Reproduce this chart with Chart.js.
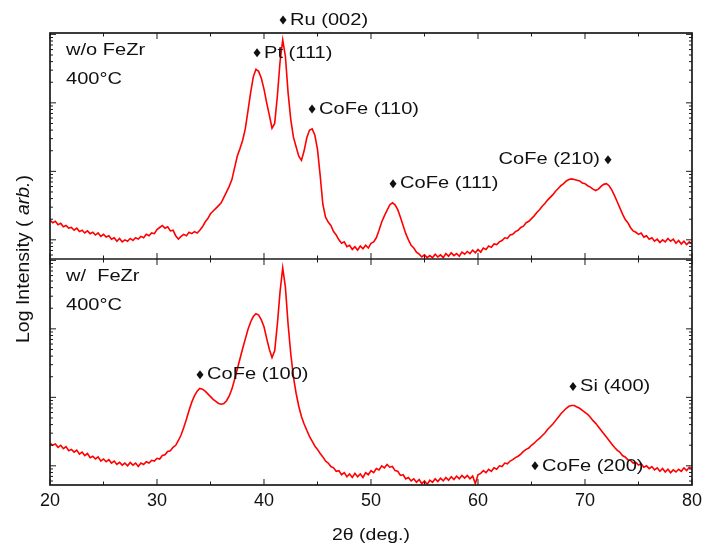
<!DOCTYPE html>
<html>
<head>
<meta charset="utf-8">
<script src="https://cdn.jsdelivr.net/npm/chart.js@4.4.1/dist/chart.umd.min.js"></script>
<style>
  body { margin: 0; background: #fff; }
  canvas { display: block; }
</style>
</head>
<body>
<canvas id="xrd" width="707" height="548"></canvas>
<script>
// 2θ grid of the scans (deg.)
const twoThetaStart = 20;
const twoThetaStep = 0.25;

// log10 intensity — top panel: w/o FeZr
const logNoFeZr = [
  0.29, 0.25, 0.27, 0.22, 0.24, 0.19, 0.21, 0.17,
  0.18, 0.14, 0.17, 0.12, 0.14, 0.10, 0.13, 0.09,
  0.11, 0.07, 0.10, 0.05, 0.08, 0.04, 0.06, 0.01,
  0.03, -0.02, 0.02, -0.03, 0.00, -0.02, 0.02, -0.01,
  0.03, 0.01, 0.05, 0.03, 0.08, 0.06, 0.10, 0.09,
  0.15, 0.18, 0.21, 0.17, 0.19, 0.13, 0.14, 0.06,
  0.01, 0.05, 0.08, 0.06, 0.11, 0.09, 0.12, 0.10,
  0.14, 0.19, 0.26, 0.31, 0.38, 0.42, 0.46, 0.50,
  0.54, 0.62, 0.70, 0.78, 0.88, 1.05, 1.22, 1.33,
  1.45, 1.62, 1.88, 2.15, 2.38, 2.49, 2.46, 2.36,
  2.20, 2.00, 1.82, 1.63, 1.70, 2.10, 2.60, 2.92,
  2.68, 2.15, 1.76, 1.50, 1.36, 1.22, 1.16, 1.30,
  1.49, 1.60, 1.62, 1.53, 1.32, 0.94, 0.52, 0.33,
  0.26, 0.21, 0.12, 0.07, 0.00, -0.05, -0.03, -0.10,
  -0.08, -0.14, -0.10, -0.15, -0.09, -0.13, -0.08, -0.12,
  -0.05, -0.03, 0.03, 0.14, 0.26, 0.35, 0.43, 0.51,
  0.54, 0.51, 0.44, 0.33, 0.21, 0.09, 0.00, -0.08,
  -0.12, -0.18, -0.21, -0.25, -0.22, -0.26, -0.23, -0.26,
  -0.21, -0.25, -0.22, -0.26, -0.20, -0.24, -0.19, -0.23,
  -0.20, -0.24, -0.18, -0.21, -0.17, -0.20, -0.15, -0.19,
  -0.14, -0.18, -0.12, -0.14, -0.09, -0.11, -0.06, -0.07,
  -0.03, -0.01, 0.03, 0.02, 0.07, 0.08, 0.12, 0.14,
  0.18, 0.20, 0.25, 0.27, 0.31, 0.35, 0.40, 0.44,
  0.49, 0.53, 0.58, 0.62, 0.66, 0.71, 0.75, 0.79,
  0.82, 0.86, 0.88, 0.89, 0.88, 0.87, 0.86, 0.83,
  0.82, 0.79, 0.77, 0.74, 0.72, 0.74, 0.78, 0.81,
  0.82, 0.79, 0.73, 0.65, 0.56, 0.47, 0.38, 0.30,
  0.25, 0.18, 0.13, 0.11, 0.08, 0.10, 0.04, 0.06,
  0.01, 0.03, -0.02, 0.01, -0.04, 0.00, -0.03, 0.02,
  -0.02, 0.01, -0.05, -0.01, -0.06, -0.02, -0.07, -0.03,
  -0.06
];

// bottom panel: w/ FeZr
const logWithFeZr = [
  0.33, 0.30, 0.32, 0.27, 0.30, 0.25, 0.28, 0.22,
  0.24, 0.20, 0.23, 0.17, 0.20, 0.15, 0.18, 0.12,
  0.14, 0.10, 0.13, 0.07, 0.10, 0.06, 0.09, 0.04,
  0.07, 0.02, 0.05, 0.01, 0.04, 0.00, 0.05, 0.01,
  0.04, -0.01, 0.04, 0.02, 0.06, 0.04, 0.08, 0.07,
  0.11, 0.10, 0.15, 0.16, 0.21, 0.22, 0.27, 0.30,
  0.37, 0.45, 0.56, 0.68, 0.81, 0.93, 1.02, 1.09,
  1.13, 1.12, 1.09, 1.05, 1.01, 0.97, 0.94, 0.91,
  0.90, 0.91, 0.95, 1.02, 1.12, 1.26, 1.41, 1.56,
  1.71, 1.85, 1.99, 2.10, 2.18, 2.22, 2.20, 2.13,
  2.03, 1.86, 1.70, 1.58, 1.68, 2.07, 2.54, 2.89,
  2.61, 2.07, 1.64, 1.30, 1.06, 0.87, 0.72, 0.61,
  0.52, 0.43, 0.36, 0.29, 0.24, 0.18, 0.13, 0.07,
  0.04, -0.01, -0.03, -0.08, -0.07, -0.13, -0.10, -0.16,
  -0.12, -0.17, -0.11, -0.16, -0.12, -0.17, -0.10, -0.13,
  -0.07, -0.10, -0.04, -0.06, 0.00, -0.03, 0.02, -0.02,
  -0.01, -0.07, -0.08, -0.14, -0.13, -0.19, -0.17, -0.22,
  -0.19, -0.24, -0.20, -0.26, -0.22, -0.27, -0.21, -0.24,
  -0.19, -0.23, -0.18, -0.22, -0.17, -0.21, -0.16, -0.20,
  -0.15, -0.19, -0.14, -0.18, -0.14, -0.19, -0.15, -0.26,
  -0.13, -0.11, -0.07, -0.10, -0.05, -0.08, -0.03, -0.05,
  0.00, -0.01, 0.04, 0.03, 0.07, 0.09, 0.12, 0.14,
  0.17, 0.21, 0.24, 0.26, 0.30, 0.33, 0.37, 0.40,
  0.44, 0.48, 0.53, 0.57, 0.61, 0.66, 0.71, 0.76,
  0.80, 0.84, 0.87, 0.88, 0.88, 0.86, 0.84, 0.81,
  0.78, 0.75, 0.71, 0.66, 0.62, 0.57, 0.52, 0.47,
  0.42, 0.37, 0.32, 0.27, 0.23, 0.20, 0.15, 0.13,
  0.09, 0.08, 0.04, 0.05, 0.01, 0.03, -0.02, 0.00,
  -0.04, -0.01, -0.06, -0.03, -0.08, -0.04, -0.09, -0.05,
  -0.10, -0.06, -0.09, -0.05, -0.08, -0.03, -0.07, -0.02,
  -0.04
];

// peak markers
const peakNames  = ['Ru (002)', 'Pt (111)', 'CoFe (110)', 'CoFe (111)', 'CoFe (210)', 'CoFe (100)', 'Si (400)', 'CoFe (200)'];
const peakAngles = [41.78, 39.35, 44.49, 52.06, 72.15, 34.02, 68.88, 65.33];
const peakLevels = [3.21, 2.73, 1.91, 0.82, 1.17, 1.33, 1.16, 0.00];
const peakPanel  = ['yTop', 'yTop', 'yTop', 'yTop', 'yTop', 'yBot', 'yBot', 'yBot'];

const sampleNames = ['w/o FeZr', 'w/  FeZr'];
const annealTemp = '400\u00B0C';

const xTicks = [20, 30, 40, 50, 60, 70, 80];

const FONT = '"Liberation Sans", Arial, sans-serif';

function toPoints(vals) {
  return vals.map((v, i) => ({ x: twoThetaStart + i * twoThetaStep, y: v }));
}

function stretchedText(ctx, str, x, y, align) {
  ctx.save();
  ctx.translate(x, y);
  ctx.scale(1.18, 1);
  ctx.textAlign = align;
  ctx.textBaseline = 'middle';
  ctx.fillText(str, 0, 0);
  ctx.restore();
}

function diamond(ctx, x, y) {
  ctx.beginPath();
  ctx.moveTo(x, y - 4.5);
  ctx.lineTo(x + 3.5, y);
  ctx.lineTo(x, y + 4.5);
  ctx.lineTo(x - 3.5, y);
  ctx.closePath();
  ctx.fill();
}

// frame, inward ticks and all the labels
const framePlugin = {
  id: 'frame',
  afterDraw(chart) {
    const { ctx, chartArea: a, scales } = chart;
    const x = scales.x, yTop = scales.yTop, yBot = scales.yBot;
    const mid = yTop.bottom;

    ctx.save();
    ctx.strokeStyle = '#1a1a1a';
    ctx.lineWidth = 1.7;
    ctx.strokeRect(a.left, a.top, a.right - a.left, a.bottom - a.top);
    ctx.beginPath();
    ctx.moveTo(a.left, mid);
    ctx.lineTo(a.right, mid);
    ctx.stroke();

    ctx.lineWidth = 1;
    ctx.beginPath();
    for (let v = 20; v <= 80; v += 5) {
      const px = x.getPixelForValue(v);
      const len = v % 10 === 0 ? 6 : 3.5;
      ctx.moveTo(px, a.top); ctx.lineTo(px, a.top + len);
      ctx.moveTo(px, mid - len); ctx.lineTo(px, mid + len);
      ctx.moveTo(px, a.bottom); ctx.lineTo(px, a.bottom - len);
    }
    [yTop, yBot].forEach(s => {
      for (let d = -1; d <= 3; d++) {
        for (let m = 1; m <= 9; m++) {
          const v = d + Math.log10(m);
          if (v < s.min || v > s.max) continue;
          const py = s.getPixelForValue(v);
          const len = m === 1 ? 6 : 3;
          ctx.moveTo(a.left, py); ctx.lineTo(a.left + len, py);
          ctx.moveTo(a.right, py); ctx.lineTo(a.right - len, py);
        }
      }
    });
    ctx.stroke();

    // peak labels
    ctx.fillStyle = '#111';
    ctx.font = '17px ' + FONT;
    peakNames.forEach((name, i) => {
      const px = x.getPixelForValue(peakAngles[i]);
      const py = scales[peakPanel[i]].getPixelForValue(peakLevels[i]);
      diamond(ctx, px, py);
      if (name === 'CoFe (210)') stretchedText(ctx, name, px - 8, py, 'right');
      else stretchedText(ctx, name, px + 7, py, 'left');
    });

    // sample labels
    [yTop, yBot].forEach((s, i) => {
      stretchedText(ctx, sampleNames[i], a.left + 16, s.top + 17, 'left');
      stretchedText(ctx, annealTemp, a.left + 16, s.top + 46, 'left');
    });

    // axis titles
    ctx.font = '16.5px ' + FONT;
    stretchedText(ctx, '2\u03B8 (deg.)', (a.left + a.right) / 2, 535, 'center');

    ctx.save();
    ctx.translate(24, (a.top + a.bottom) / 2);
    ctx.rotate(-Math.PI / 2);
    const parts = [['Log Intensity ( ', 'normal'], ['arb.', 'italic'], [')', 'normal']];
    const widths = parts.map(p => { ctx.font = p[1] + ' 17.5px ' + FONT; return ctx.measureText(p[0]).width; });
    const total = widths.reduce((s, w) => s + w, 0);
    const k = 168 / total;
    ctx.scale(k, 1);
    ctx.textBaseline = 'middle';
    let cx = -total / 2;
    parts.forEach((p, i) => {
      ctx.font = p[1] + ' 17.5px ' + FONT;
      ctx.fillText(p[0], cx, 0);
      cx += widths[i];
    });
    ctx.restore();

    ctx.restore();
  }
};

const yPanel = {
  type: 'linear',
  position: 'left',
  stack: 'xrd',
  stackWeight: 1,
  min: -0.28,
  max: 3.02,
  ticks: { display: false },
  grid: { display: false, drawTicks: false },
  border: { display: false },
  afterFit: s => { s.width = 0; }
};

new Chart(document.getElementById('xrd'), {
  type: 'line',
  data: {
    datasets: [
      { label: 'w/o FeZr', data: toPoints(logNoFeZr), yAxisID: 'yTop', borderColor: '#ff0000', borderWidth: 1.6, pointRadius: 0, tension: 0 },
      { label: 'w/ FeZr', data: toPoints(logWithFeZr), yAxisID: 'yBot', borderColor: '#ff0000', borderWidth: 1.6, pointRadius: 0, tension: 0 }
    ]
  },
  options: {
    responsive: false,
    animation: false,
    layout: { padding: { top: 33, left: 50, right: 14, bottom: 0 } },
    plugins: { legend: { display: false }, tooltip: { enabled: false } },
    scales: {
      x: {
        type: 'linear',
        min: 20,
        max: 80,
        afterBuildTicks: s => { s.ticks = xTicks.map(v => ({ value: v })); },
        ticks: { color: '#111', padding: 5, font: { family: FONT, size: 18 } },
        grid: { display: false, drawTicks: false },
        border: { display: false },
        afterFit: s => { s.height = 63; }
      },
      yBot: Object.assign({}, yPanel),
      yTop: Object.assign({}, yPanel)
    }
  },
  plugins: [framePlugin]
});
</script>
</body>
</html>
